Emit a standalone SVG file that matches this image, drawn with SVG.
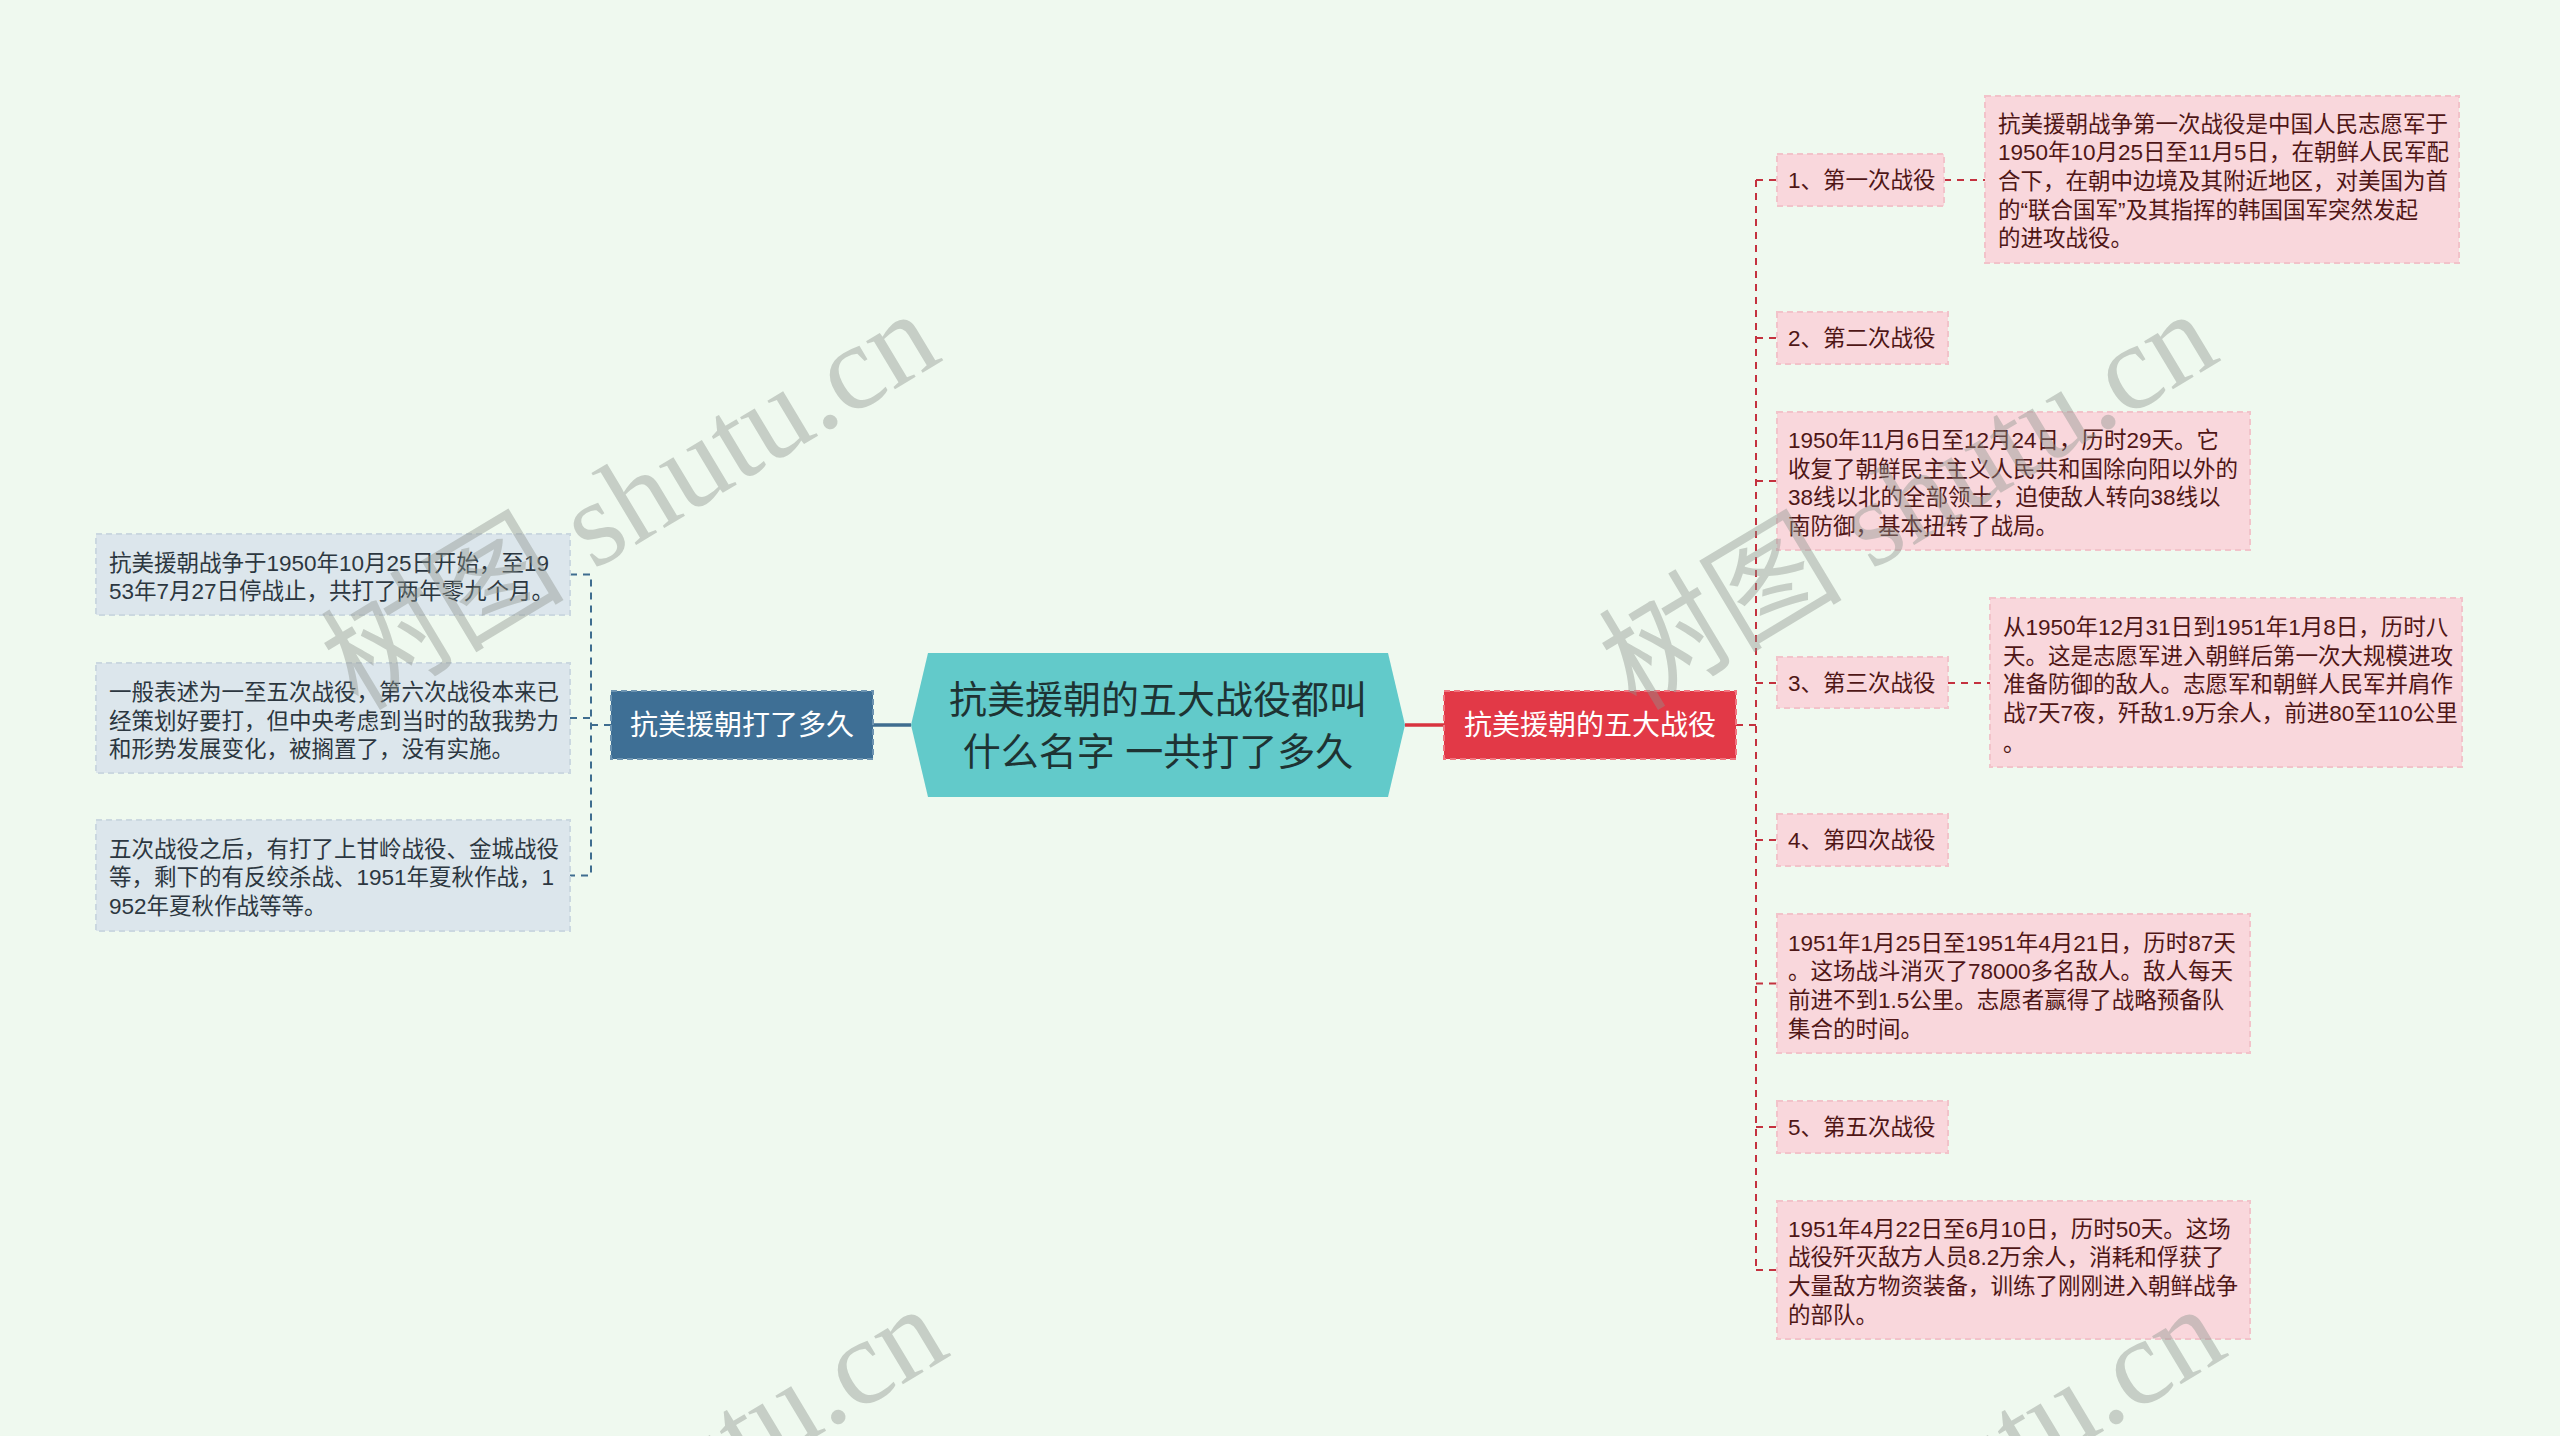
<svg xmlns="http://www.w3.org/2000/svg" width="2560" height="1436" viewBox="0 0 2560 1436">
<style>
.bg{fill:#eff9ef}
.t{font-family:"Liberation Sans","Noto Sans CJK SC",sans-serif;font-size:22.5px}
.lt{fill:#2c3740}
.rt{fill:#4f1616}
.lbox{fill:#dce6ec;stroke:#cbd8e0;stroke-width:2;stroke-dasharray:6 4}
.rbox{fill:#f9d7dc;stroke:#f2c3ca;stroke-width:2;stroke-dasharray:6 4}
.lc{fill:none;stroke:#3f6d8f;stroke-width:2;stroke-dasharray:7 6}
.rc{fill:none;stroke:#c4323f;stroke-width:2;stroke-dasharray:7 6}
.wm{font-family:"Liberation Serif","Noto Sans CJK SC",serif;font-size:122px;fill:rgb(140,147,141);fill-opacity:0.42}
</style>
<rect class="bg" x="0" y="0" width="2560" height="1436"/>

<g id="connectors">
  <line x1="873" y1="725" x2="911" y2="725" stroke="#3f6d8f" stroke-width="3.5"/>
  <line x1="1405" y1="725" x2="1444" y2="725" stroke="#d8333f" stroke-width="3.5"/>
  <path class="lc" d="M570,574.5 H591 V875.5 H570 M570,718 H591 M611,725 H591"/>
  <path class="rc" d="M1756,180 V1270 M1736,725 H1756 M1756,180 H1777 M1756,338 H1777 M1756,481 H1777 M1756,683 H1777 M1756,840 H1777 M1756,983.5 H1777 M1756,1127 H1777 M1756,1270 H1777 M1944,180 H1985 M1948,683 H1990"/>
</g>

<g id="center">
  <polygon points="928,653 1388,653 1405,725 1388,797 928,797 911,725" fill="#62caca"/>
  <text x="1158" y="713" text-anchor="middle" font-family="'Liberation Sans','Noto Sans CJK SC',sans-serif" font-size="38" fill="#1e3333">抗美援朝的五大战役都叫</text>
  <text x="1158" y="765" text-anchor="middle" font-family="'Liberation Sans','Noto Sans CJK SC',sans-serif" font-size="38" fill="#1e3333">什么名字 一共打了多久</text>
</g>

<g id="left-main">
  <rect x="611" y="691" width="262" height="68" fill="#3e6f95" stroke="#6d94b1" stroke-width="2" stroke-dasharray="6 4"/>
  <text x="742" y="735" text-anchor="middle" font-family="'Liberation Sans','Noto Sans CJK SC',sans-serif" font-size="28" fill="#ffffff">抗美援朝打了多久</text>
</g>

<g id="right-main">
  <rect x="1444" y="691" width="292" height="68" fill="#e23947" stroke="#f07580" stroke-width="2" stroke-dasharray="6 4"/>
  <text x="1590" y="735" text-anchor="middle" font-family="'Liberation Sans','Noto Sans CJK SC',sans-serif" font-size="28" fill="#ffffff">抗美援朝的五大战役</text>
</g>

<g id="L1">
  <rect class="lbox" x="96" y="534" width="474" height="81"/>
  <text class="t lt" x="109" y="570.5">抗美援朝战争于1950年10月25日开始，至19</text>
  <text class="t lt" x="109" y="599.2">53年7月27日停战止，共打了两年零九个月。</text>
</g>
<g id="L2">
  <rect class="lbox" x="96" y="663" width="474" height="110"/>
  <text class="t lt" x="109" y="700">一般表述为一至五次战役，第六次战役本来已</text>
  <text class="t lt" x="109" y="728.7">经策划好要打，但中央考虑到当时的敌我势力</text>
  <text class="t lt" x="109" y="757.4">和形势发展变化，被搁置了，没有实施。</text>
</g>
<g id="L3">
  <rect class="lbox" x="96" y="820" width="474" height="111"/>
  <text class="t lt" x="109" y="856.5">五次战役之后，有打了上甘岭战役、金城战役</text>
  <text class="t lt" x="109" y="885.2">等，剩下的有反绞杀战、1951年夏秋作战，1</text>
  <text class="t lt" x="109" y="913.9">952年夏秋作战等等。</text>
</g>

<g id="R1">
  <rect class="rbox" x="1777" y="154" width="167" height="52"/>
  <text class="t rt" x="1788" y="188">1、第一次战役</text>
</g>
<g id="R1d">
  <rect class="rbox" x="1985" y="96" width="474" height="167"/>
  <text class="t rt" x="1998" y="131.5">抗美援朝战争第一次战役是中国人民志愿军于</text>
  <text class="t rt" x="1998" y="160.2">1950年10月25日至11月5日，在朝鲜人民军配</text>
  <text class="t rt" x="1998" y="188.9">合下，在朝中边境及其附近地区，对美国为首</text>
  <text class="t rt" x="1998" y="217.6">的“联合国军”及其指挥的韩国国军突然发起</text>
  <text class="t rt" x="1998" y="246.3">的进攻战役。</text>
</g>
<g id="R2">
  <rect class="rbox" x="1777" y="312" width="171" height="52"/>
  <text class="t rt" x="1788" y="346">2、第二次战役</text>
</g>
<g id="R2d">
  <rect class="rbox" x="1777" y="412" width="473" height="138"/>
  <text class="t rt" x="1788" y="448">1950年11月6日至12月24日，历时29天。它</text>
  <text class="t rt" x="1788" y="476.7">收复了朝鲜民主主义人民共和国除向阳以外的</text>
  <text class="t rt" x="1788" y="505.4">38线以北的全部领土，迫使敌人转向38线以</text>
  <text class="t rt" x="1788" y="534.1">南防御，基本扭转了战局。</text>
</g>
<g id="R3">
  <rect class="rbox" x="1777" y="657" width="171" height="51"/>
  <text class="t rt" x="1788" y="691">3、第三次战役</text>
</g>
<g id="R3d">
  <rect class="rbox" x="1990" y="598" width="472" height="169"/>
  <text class="t rt" x="2003" y="635">从1950年12月31日到1951年1月8日，历时八</text>
  <text class="t rt" x="2003" y="663.7">天。这是志愿军进入朝鲜后第一次大规模进攻</text>
  <text class="t rt" x="2003" y="692.4">准备防御的敌人。志愿军和朝鲜人民军并肩作</text>
  <text class="t rt" x="2003" y="721.1">战7天7夜，歼敌1.9万余人，前进80至110公里</text>
  <text class="t rt" x="2003" y="751">。</text>
</g>
<g id="R4">
  <rect class="rbox" x="1777" y="814" width="171" height="52"/>
  <text class="t rt" x="1788" y="848">4、第四次战役</text>
</g>
<g id="R4d">
  <rect class="rbox" x="1777" y="914" width="473" height="139"/>
  <text class="t rt" x="1788" y="950.5">1951年1月25日至1951年4月21日，历时87天</text>
  <text class="t rt" x="1788" y="979.2">。这场战斗消灭了78000多名敌人。敌人每天</text>
  <text class="t rt" x="1788" y="1007.9">前进不到1.5公里。志愿者赢得了战略预备队</text>
  <text class="t rt" x="1788" y="1036.6">集合的时间。</text>
</g>
<g id="R5">
  <rect class="rbox" x="1777" y="1101" width="171" height="52"/>
  <text class="t rt" x="1788" y="1135">5、第五次战役</text>
</g>
<g id="R5d">
  <rect class="rbox" x="1777" y="1201" width="473" height="138"/>
  <text class="t rt" x="1788" y="1236.5">1951年4月22日至6月10日，历时50天。这场</text>
  <text class="t rt" x="1788" y="1265.2">战役歼灭敌方人员8.2万余人，消耗和俘获了</text>
  <text class="t rt" x="1788" y="1293.9">大量敌方物资装备，训练了刚刚进入朝鲜战争</text>
  <text class="t rt" x="1788" y="1322.6">的部队。</text>
</g>

<g id="watermarks">
  <text class="wm" transform="translate(358,712) rotate(-31)">树图 shutu.cn</text>
  <text class="wm" transform="translate(1636,712) rotate(-31)">树图 shutu.cn</text>
  <text class="wm" transform="translate(366,1707) rotate(-31)">树图 shutu.cn</text>
  <text class="wm" transform="translate(1644,1707) rotate(-31)">树图 shutu.cn</text>
</g>
</svg>
